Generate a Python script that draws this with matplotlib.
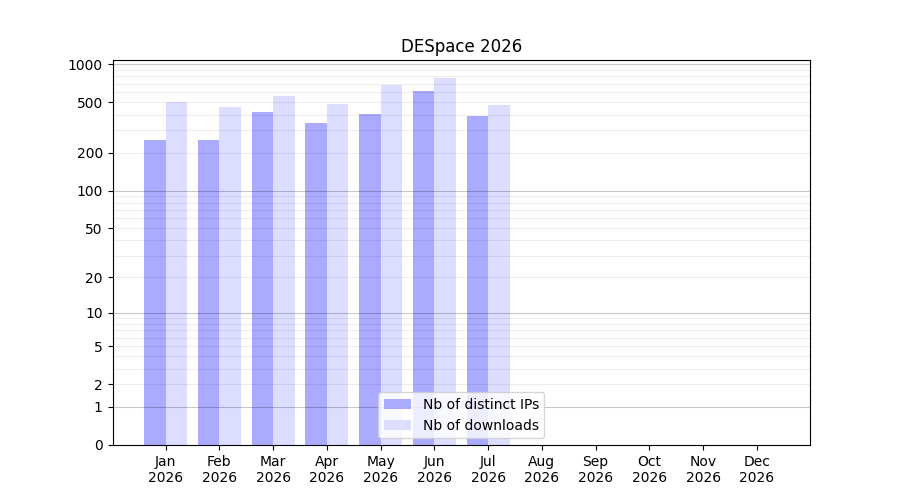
import numpy as np
import matplotlib
matplotlib.use("Agg")
import matplotlib.pyplot as plt

months = ["Jan", "Feb", "Mar", "Apr", "May", "Jun", "Jul", "Aug", "Sep", "Oct", "Nov", "Dec"]
year = "2026"
distinct_ips = [250, 250, 417, 341, 402, 610, 387, 0, 0, 0, 0, 0]
downloads = [499, 456, 557, 482, 680, 772, 473, 0, 0, 0, 0, 0]
ytick_values = [0, 1, 2, 5, 10, 20, 50, 100, 200, 500, 1000]

fig, ax = plt.subplots(figsize=(9, 5), dpi=100)
x = np.arange(len(months))
w = 0.4

ax.set_yscale("function", functions=(lambda v: np.log10(1 + np.clip(v, 0, None)),
                                     lambda v: 10 ** v - 1))

ax.bar(x - w / 2, distinct_ips, width=w, color="#aaaaff", label="Nb of distinct IPs", zorder=1)
ax.bar(x + w / 2, downloads, width=w, color="#ddddff", label="Nb of downloads", zorder=1)
ax.autoscale_view()
ylim = ax.get_ylim()

major = [1, 10, 100, 1000]
minor = [m * d for d in (1, 10, 100) for m in range(2, 10)]
for v in minor:
    ax.axhline(v, color="black", alpha=0.07, lw=0.8, zorder=1.5)
for v in major:
    ax.axhline(v, color="black", alpha=0.22, lw=0.8, zorder=1.6)
ax.set_ylim(ylim)

ax.set_yticks(ytick_values)
ax.set_yticklabels([str(v) for v in ytick_values])
ax.minorticks_off()
ax.set_xticks(x)
ax.set_xticklabels([f"{m}\n{year}" for m in months])
ax.set_title("DESpace 2026")
ax.legend(loc="lower center")

fig.savefig("out.png", dpi=100)
